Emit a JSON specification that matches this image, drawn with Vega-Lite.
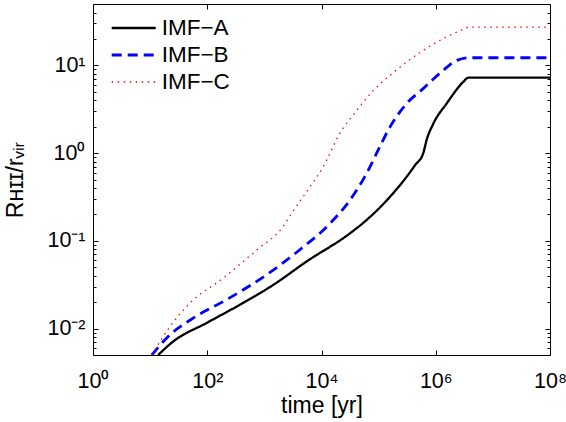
{
  "$schema": "https://vega.github.io/schema/vega-lite/v6.json",
  "width": 457,
  "height": 351,
  "autosize": {"type": "none"},
  "padding": {"left": 93, "top": 4, "right": 16, "bottom": 67},
  "background": "#ffffff",
  "config": {
    "view": {"stroke": "#000000", "strokeWidth": 1},
    "font": "Liberation Sans",
    "axis": {
      "grid": false,
      "domain": false,
      "tickColor": "#000000",
      "tickWidth": 1,
      "labelColor": "#000000",
      "labelFont": "Liberation Sans",
      "labelFontSize": 21.5,
      "labelOverlap": false,
      "labelFlush": false,
      "labelBound": false,
      "titleColor": "#000000",
      "titleFont": "Liberation Sans",
      "titleFontSize": 23,
      "titleFontWeight": "normal"
    }
  },
  "data": {
    "values": [
      {"imf": "IMF−A", "t": 13.8, "r": 0.0050},
      {"imf": "IMF−A", "t": 25.7, "r": 0.00718},
      {"imf": "IMF−A", "t": 97.7, "r": 0.0116},
      {"imf": "IMF−A", "t": 372, "r": 0.0187},
      {"imf": "IMF−A", "t": 1445, "r": 0.0316},
      {"imf": "IMF−A", "t": 5495, "r": 0.0582},
      {"imf": "IMF−A", "t": 31623, "r": 0.122},
      {"imf": "IMF−A", "t": 61660, "r": 0.173},
      {"imf": "IMF−A", "t": 158489, "r": 0.318},
      {"imf": "IMF−A", "t": 309030, "r": 0.537},
      {"imf": "IMF−A", "t": 436516, "r": 0.731},
      {"imf": "IMF−A", "t": 602560, "r": 0.993},
      {"imf": "IMF−A", "t": 691831, "r": 1.41},
      {"imf": "IMF−A", "t": 912011, "r": 2.18},
      {"imf": "IMF−A", "t": 1548817, "r": 3.67},
      {"imf": "IMF−A", "t": 3019952, "r": 6.46},
      {"imf": "IMF−A", "t": 3715352, "r": 7.24},
      {"imf": "IMF−A", "t": 100000000, "r": 7.24},
      {"imf": "IMF−B", "t": 10.7, "r": 0.0050},
      {"imf": "IMF−B", "t": 19.5, "r": 0.00783},
      {"imf": "IMF−B", "t": 57.5, "r": 0.01324},
      {"imf": "IMF−B", "t": 219, "r": 0.0214},
      {"imf": "IMF−B", "t": 1096, "r": 0.0411},
      {"imf": "IMF−B", "t": 4169, "r": 0.0791},
      {"imf": "IMF−B", "t": 14125, "r": 0.158},
      {"imf": "IMF−B", "t": 31623, "r": 0.292},
      {"imf": "IMF−B", "t": 61660, "r": 0.587},
      {"imf": "IMF−B", "t": 104713, "r": 1.18},
      {"imf": "IMF−B", "t": 158489, "r": 1.99},
      {"imf": "IMF−B", "t": 309030, "r": 3.67},
      {"imf": "IMF−B", "t": 602560, "r": 5.43},
      {"imf": "IMF−B", "t": 1348963, "r": 8.77},
      {"imf": "IMF−B", "t": 2344229, "r": 11.4},
      {"imf": "IMF−B", "t": 3981072, "r": 12.2},
      {"imf": "IMF−B", "t": 100000000, "r": 12.2},
      {"imf": "IMF−C", "t": 10.7, "r": 0.0050},
      {"imf": "IMF−C", "t": 22.4, "r": 0.0106},
      {"imf": "IMF−C", "t": 50.1, "r": 0.0196},
      {"imf": "IMF−C", "t": 191, "r": 0.0377},
      {"imf": "IMF−C", "t": 741, "r": 0.0791},
      {"imf": "IMF−C", "t": 2138, "r": 0.146},
      {"imf": "IMF−C", "t": 3020, "r": 0.207},
      {"imf": "IMF−C", "t": 6310, "r": 0.414},
      {"imf": "IMF−C", "t": 10715, "r": 0.700},
      {"imf": "IMF−C", "t": 20893, "r": 1.67},
      {"imf": "IMF−C", "t": 41687, "r": 3.08},
      {"imf": "IMF−C", "t": 81283, "r": 5.20},
      {"imf": "IMF−C", "t": 158489, "r": 7.69},
      {"imf": "IMF−C", "t": 309030, "r": 10.9},
      {"imf": "IMF−C", "t": 602560, "r": 14.8},
      {"imf": "IMF−C", "t": 1174898, "r": 19.2},
      {"imf": "IMF−C", "t": 2344229, "r": 23.9},
      {"imf": "IMF−C", "t": 3981072, "r": 27.2},
      {"imf": "IMF−C", "t": 100000000, "r": 27.2}
    ]
  },
  "layer": [
    {
      "mark": {"type": "line", "clip": true, "interpolate": "monotone", "strokeCap": "butt"},
      "encoding": {
        "x": {
          "field": "t", "type": "quantitative",
          "scale": {"type": "log", "domain": [1, 100000000], "nice": false},
          "axis": {
            "orient": "bottom",
            "values": [1, 100, 10000, 1000000, 100000000],
            "labelExpr": "datum.value == 1 ? '10⁰' : datum.value == 100 ? '10²' : datum.value == 10000 ? '10⁴' : datum.value == 1000000 ? '10⁶' : '10⁸'",
            "tickSize": -5,
            "labelPadding": 20,
            "title": "time [yr]",
            "titlePadding": 3
          }
        },
        "y": {
          "field": "r", "type": "quantitative",
          "scale": {"type": "log", "domain": [0.005, 50], "nice": false},
          "axis": {
            "orient": "left",
            "values": [0.006, 0.007, 0.008, 0.009, 0.01, 0.02, 0.03, 0.04, 0.05, 0.06, 0.07, 0.08, 0.09, 0.1, 0.2, 0.3, 0.4, 0.5, 0.6, 0.7, 0.8, 0.9, 1, 2, 3, 4, 5, 6, 7, 8, 9, 10, 20, 30, 40],
            "labelExpr": "datum.value == 0.01 ? '10⁻²' : datum.value == 0.1 ? '10⁻¹' : datum.value == 1 ? '10⁰' : datum.value == 10 ? '10¹' : ''",
            "tickSize": {"condition": {"test": "datum.value == 0.01 || datum.value == 0.1 || datum.value == 1 || datum.value == 10", "value": -5}, "value": -3},
            "labelPadding": 13,
            "title": "Rʜɪɪ/rᵥᵢᵣ",
            "titlePadding": 19
          }
        },
        "color": {
          "field": "imf", "type": "nominal",
          "scale": {"domain": ["IMF−A", "IMF−B", "IMF−C"], "range": ["#000000", "#0000ff", "#ff0000"]},
          "legend": {
            "title": null,
            "orient": "none",
            "legendX": 17.2,
            "legendY": 14,
            "symbolType": "stroke",
            "symbolSize": 1936,
            "clipHeight": 20,
            "rowPadding": 4,
            "padding": 0,
            "labelFont": "Liberation Sans",
            "labelFontSize": 22.5,
            "labelColor": "#000000",
            "labelOffset": 4.5
          }
        },
        "strokeDash": {
          "field": "imf", "type": "nominal",
          "scale": {"domain": ["IMF−A", "IMF−B", "IMF−C"], "range": [[1, 0], [10, 6], [1.5, 4.5]]}
        },
        "strokeWidth": {
          "field": "imf", "type": "nominal",
          "scale": {"type": "ordinal", "domain": ["IMF−A", "IMF−B", "IMF−C"], "range": [2.3, 2.8, 1.3]}
        }
      }
    },
    {
      "mark": {"type": "point", "opacity": 0},
      "encoding": {
        "x": {
          "field": "t", "type": "quantitative",
          "axis": {
            "orient": "top",
            "values": [1, 100, 10000, 1000000, 100000000],
            "labels": false,
            "tickSize": -5,
            "title": null
          }
        },
        "y": {
          "field": "r", "type": "quantitative",
          "axis": {
            "orient": "right",
            "values": [0.006, 0.007, 0.008, 0.009, 0.01, 0.02, 0.03, 0.04, 0.05, 0.06, 0.07, 0.08, 0.09, 0.1, 0.2, 0.3, 0.4, 0.5, 0.6, 0.7, 0.8, 0.9, 1, 2, 3, 4, 5, 6, 7, 8, 9, 10, 20, 30, 40],
            "labels": false,
            "tickSize": {"condition": {"test": "datum.value == 0.01 || datum.value == 0.1 || datum.value == 1 || datum.value == 10", "value": -5}, "value": -3},
            "title": null
          }
        }
      }
    }
  ],
  "resolve": {"axis": {"x": "independent", "y": "independent"}}
}
